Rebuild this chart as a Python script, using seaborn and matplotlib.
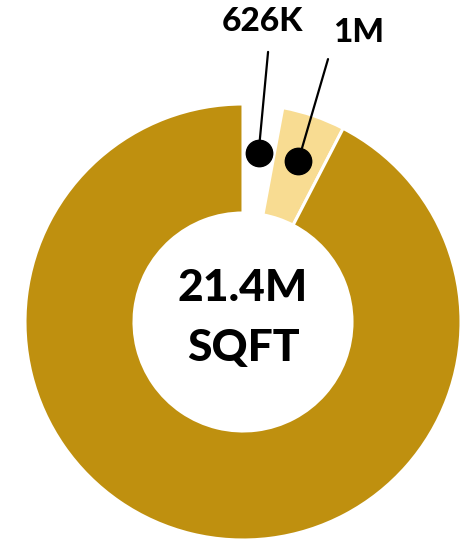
import numpy as np
import matplotlib
matplotlib.use("Agg")
import matplotlib.pyplot as plt
import seaborn as sns

# square footage by segment (millions)
segments = ["Small", "Medium", "Remaining"]
sqft_m = [0.626, 1.0, 21.4 - 0.626 - 1.0]
labels = ["626K", "1M", None]
total_label = ["21.4M", "SQFT"]
colors = ["#FFFFFF", "#F8DC92", "#BF900F"]

sns.set_theme(style="white")
plt.rcParams["font.family"] = ["Lato", "DejaVu Sans"]

fig = plt.figure(figsize=(4.65, 5.45), dpi=100)
ax = fig.add_axes([25 / 465, 5 / 545, 436 / 465, 436 / 545])

wedges, _ = ax.pie(sqft_m,
                   colors=colors,
                   startangle=90,
                   counterclock=False,
                   radius=1,
                   wedgeprops={"width": 0.5, "edgecolor": "white", "linewidth": 2.2})
ax.set_xlim(-1, 1)
ax.set_ylim(-1, 1)
ax.set_aspect("equal")
ax.axis("off")

# centre text, two lines
ax.text(0, 0.156, total_label[0], ha="center", va="center", fontsize=32,
        fontweight=900, color="black")
ax.text(0, -0.119, total_label[1], ha="center", va="center", fontsize=32,
        fontweight=900, color="black")

# callouts: dot in the middle of the small wedges, line up to the label
line_ends = [(0.115, 1.239), (0.390, 1.206)]
text_pos = [(0.087, 1.38), (0.532, 1.33)]
cum = np.cumsum([0] + sqft_m)
for i, lab in enumerate(labels):
    if lab is None:
        continue
    mid = 90 - 360 * (cum[i] + cum[i + 1]) / 2 / cum[-1]
    dx, dy = 0.78 * np.cos(np.radians(mid)), 0.78 * np.sin(np.radians(mid))
    ex, ey = line_ends[i]
    ax.plot([dx, ex], [dy, ey], color="black", linewidth=1.6, clip_on=False)
    ax.plot(dx, dy, "o", color="black", markersize=19, clip_on=False)
    ax.text(*text_pos[i], lab, ha="center", va="center", fontsize=24,
            fontweight=900, color="black", clip_on=False)

fig.savefig("out.png", dpi=100)
